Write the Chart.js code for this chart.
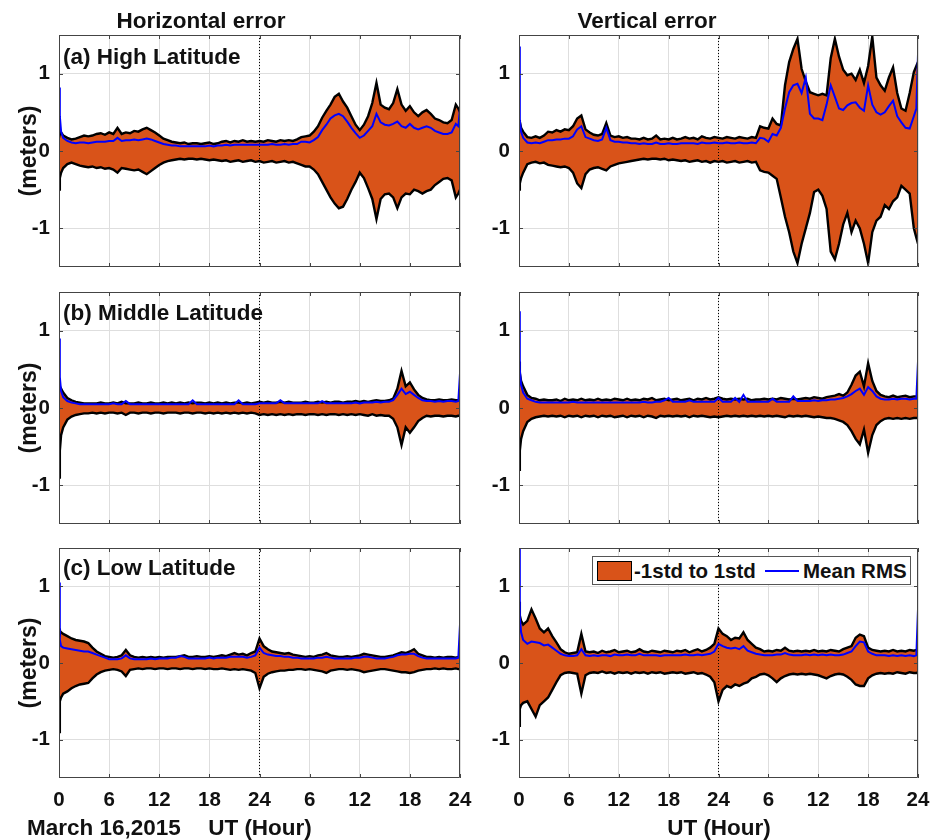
<!DOCTYPE html>
<html>
<head>
<meta charset="utf-8">
<script src="https://cdn.jsdelivr.net/npm/chart.js@4.4.1/dist/chart.umd.min.js"></script>
<style>
  body { margin: 0; background: #fff; width: 943px; height: 840px; position: relative; overflow: hidden;
         font-family: "Liberation Sans", Arial, Helvetica, sans-serif; font-weight: bold; color: #111; }
  canvas { position: absolute; }
  .t { position: absolute; white-space: nowrap; font-size: 22.5px; line-height: 1; }
  .rot { transform: translate(-50%, -50%) rotate(-90deg); font-size: 23px; }
  .ctr { transform: translateX(-50%); }
  #legend { position: absolute; left: 592px; top: 556px; width: 317px; height: 27px; background: #fff;
            border: 1px solid #555; font-size: 20.5px; line-height: 1; }
  #legend .patch { position: absolute; left: 4px; top: 4px; width: 33px; height: 18px; background: #D95319; border: 1px solid #000; }
  #legend .line { position: absolute; left: 172px; top: 13px; width: 34px; height: 2px; background: #0000ff; }
  #legend span { position: absolute; top: 4px; }
</style>
</head>
<body>
<canvas id="aH" width="475" height="245" style="left:0;top:30px"></canvas>
<canvas id="aV" width="473" height="245" style="left:470px;top:30px"></canvas>
<canvas id="bH" width="475" height="245" style="left:0;top:287px"></canvas>
<canvas id="bV" width="473" height="245" style="left:470px;top:287px"></canvas>
<canvas id="cH" width="475" height="275" style="left:0;top:543px"></canvas>
<canvas id="cV" width="473" height="275" style="left:470px;top:543px"></canvas>

<div class="t ctr" style="left:201px;top:10px">Horizontal error</div>
<div class="t ctr" style="left:647px;top:10px">Vertical error</div>
<div class="t" style="left:63px;top:46px">(a) High Latitude</div>
<div class="t" style="left:63px;top:302px">(b) Middle Latitude</div>
<div class="t" style="left:63px;top:557px">(c) Low Latitude</div>
<div class="t rot" style="left:28px;top:151px">(meters)</div>
<div class="t rot" style="left:28px;top:408px">(meters)</div>
<div class="t rot" style="left:28px;top:663px">(meters)</div>
<div class="t" style="left:27px;top:817px">March 16,2015</div>
<div class="t ctr" style="left:260px;top:817px">UT (Hour)</div>
<div class="t ctr" style="left:719px;top:817px">UT (Hour)</div>
<div id="legend">
  <div class="patch"></div><span style="left:41px">-1std to 1std</span>
  <div class="line"></div><span style="left:210px">Mean RMS</span>
</div>

<script>
// UT hours since 00:00 March 16, 2015 (two days)
const hours = [0, 0.1, 0.25, 0.5, 1, 1.5, 2, 2.5, 3, 3.5,
  4, 4.5, 5, 5.5, 6, 6.5, 7, 7.5, 8, 8.5,
  9, 9.5, 10, 10.5, 11, 11.5, 12, 12.5, 13, 13.5,
  14, 14.5, 15, 15.5, 16, 16.5, 17, 17.5, 18, 18.5,
  19, 19.5, 20, 20.5, 21, 21.5, 22, 22.5, 23, 23.5,
  24, 24.5, 25, 25.5, 26, 26.5, 27, 27.5, 28, 28.5,
  29, 29.5, 30, 30.5, 31, 31.5, 32, 32.5, 33, 33.5,
  34, 34.5, 35, 35.5, 36, 36.5, 37, 37.5, 38, 38.5,
  39, 39.5, 40, 40.5, 41, 41.5, 42, 42.5, 43, 43.5,
  44, 44.5, 45, 45.5, 46, 46.5, 47, 47.5, 47.8, 48];

const xTicks = [0, 6, 12, 18, 24, 30, 36, 42, 48];
const xTickLabels = ["0", "6", "12", "18", "24", "6", "12", "18", "24"];
const yTicks = [-1, 0, 1];
const dayBoundary = 24;

// (a) High latitude, horizontal
const highHorUpper = [0.32, 0.28, 0.24, 0.2, 0.17, 0.15, 0.16, 0.18, 0.2, 0.19,
  0.2, 0.22, 0.23, 0.21, 0.24, 0.22, 0.3, 0.22, 0.24, 0.23,
  0.26, 0.25, 0.28, 0.3, 0.27, 0.24, 0.2, 0.16, 0.14, 0.12,
  0.11, 0.1, 0.11, 0.09, 0.1, 0.1, 0.09, 0.1, 0.11, 0.09,
  0.1, 0.12, 0.13, 0.11, 0.13, 0.12, 0.14, 0.12, 0.13, 0.12,
  0.13, 0.12, 0.14, 0.13, 0.12, 0.14, 0.13, 0.14, 0.13, 0.15,
  0.18, 0.19, 0.2, 0.25, 0.32, 0.43, 0.52, 0.6, 0.7, 0.74,
  0.64, 0.56, 0.45, 0.34, 0.27, 0.34, 0.45, 0.62, 0.88, 0.6,
  0.56, 0.54, 0.62, 0.8, 0.6, 0.52, 0.58, 0.5, 0.45, 0.5,
  0.53, 0.48, 0.42, 0.4, 0.37, 0.36, 0.4, 0.6, 0.55, 0.5];
const highHorLower = [-0.5, -0.35, -0.28, -0.22, -0.17, -0.15, -0.17, -0.19, -0.2, -0.21,
  -0.2, -0.22, -0.21, -0.23, -0.22, -0.24, -0.28, -0.22, -0.23, -0.24,
  -0.25, -0.24, -0.27, -0.3, -0.26, -0.22, -0.18, -0.15, -0.13, -0.12,
  -0.11, -0.1, -0.11, -0.1, -0.1, -0.11, -0.1, -0.11, -0.12, -0.11,
  -0.12, -0.13, -0.12, -0.14, -0.13, -0.12, -0.14, -0.13, -0.12, -0.14,
  -0.13, -0.15, -0.14, -0.13, -0.15, -0.14, -0.13, -0.15, -0.14, -0.16,
  -0.18, -0.2, -0.2, -0.24, -0.3, -0.4, -0.5, -0.6, -0.68, -0.74,
  -0.72, -0.62, -0.5, -0.4, -0.28, -0.35, -0.48, -0.62, -0.88, -0.62,
  -0.56, -0.55, -0.6, -0.74, -0.6, -0.55, -0.56, -0.5, -0.52, -0.55,
  -0.52, -0.5, -0.44, -0.4, -0.36, -0.35, -0.38, -0.6, -0.55, -0.5];
const highHorRms = [0.82, 0.45, 0.25, 0.17, 0.13, 0.11, 0.1, 0.11, 0.11, 0.1,
  0.11, 0.12, 0.12, 0.12, 0.13, 0.13, 0.17, 0.13, 0.14, 0.14,
  0.15, 0.14, 0.15, 0.16, 0.15, 0.13, 0.11, 0.09, 0.08, 0.07,
  0.07, 0.06, 0.06, 0.06, 0.06, 0.06, 0.06, 0.06, 0.07, 0.06,
  0.07, 0.07, 0.08, 0.07, 0.08, 0.08, 0.08, 0.08, 0.08, 0.08,
  0.08, 0.08, 0.08, 0.09, 0.08, 0.08, 0.09, 0.08, 0.09, 0.09,
  0.12, 0.12, 0.11, 0.14, 0.18, 0.27, 0.34, 0.42, 0.46, 0.48,
  0.45, 0.38, 0.3, 0.23, 0.17, 0.2, 0.26, 0.32, 0.48, 0.37,
  0.34, 0.33, 0.35, 0.38, 0.32, 0.3, 0.35, 0.3, 0.28, 0.3,
  0.32, 0.3, 0.26, 0.24, 0.22, 0.22, 0.24, 0.35, 0.32, 0.55];

// (a) High latitude, vertical
const highVerUpper = [0.4, 0.38, 0.3, 0.25, 0.18, 0.17, 0.19, 0.17, 0.2, 0.25,
  0.24, 0.27, 0.25, 0.28, 0.27, 0.32, 0.42, 0.46, 0.28, 0.24,
  0.21, 0.2, 0.22, 0.36, 0.2, 0.18, 0.19, 0.17, 0.18, 0.16,
  0.16, 0.15, 0.17, 0.15, 0.16, 0.2, 0.15, 0.16, 0.15, 0.17,
  0.15, 0.16, 0.18, 0.16, 0.17, 0.15, 0.19, 0.17, 0.16, 0.18,
  0.17, 0.16, 0.18, 0.17, 0.16, 0.18, 0.17, 0.16, 0.18, 0.17,
  0.32, 0.3, 0.29, 0.42, 0.35, 0.33, 0.85, 1.15, 1.32, 1.45,
  1.06, 0.9, 0.76, 0.74, 0.72, 0.74, 0.72, 1.2, 1.45, 1.22,
  1.05, 0.98, 1.0, 0.92, 1.05, 0.88, 1.1, 1.48, 0.95, 0.85,
  0.78, 0.95, 1.08, 0.75, 0.55, 0.52, 0.75, 1.02, 1.1, 1.15];
const highVerLower = [-0.5, -0.42, -0.35, -0.28, -0.17, -0.15, -0.14, -0.16, -0.15, -0.18,
  -0.19, -0.2, -0.21, -0.2, -0.22, -0.28, -0.42, -0.48, -0.3, -0.24,
  -0.22, -0.21, -0.23, -0.25, -0.2, -0.18, -0.16, -0.15, -0.14, -0.13,
  -0.12, -0.11, -0.1, -0.11, -0.1, -0.1, -0.11, -0.1, -0.12, -0.11,
  -0.12, -0.13, -0.12, -0.14, -0.13, -0.12, -0.14, -0.13, -0.15, -0.13,
  -0.14, -0.13, -0.15, -0.14, -0.13, -0.15, -0.14, -0.13, -0.15, -0.14,
  -0.25, -0.27, -0.28, -0.32, -0.36, -0.6, -0.85, -1.05, -1.3, -1.45,
  -1.2, -1.0, -0.8, -0.53, -0.5, -0.58, -0.75, -1.3, -1.4, -1.2,
  -0.95, -0.8, -1.05, -0.9, -1.0, -1.2, -1.45, -1.05, -0.9, -0.85,
  -0.7, -0.75, -0.65, -0.6, -0.45, -0.5, -0.55, -1.0, -1.12, -1.2];
const highVerRms = [1.35, 0.4, 0.25, 0.17, 0.11, 0.1, 0.11, 0.1, 0.12, 0.14,
  0.14, 0.15, 0.15, 0.16, 0.16, 0.19, 0.28, 0.32, 0.18, 0.16,
  0.14, 0.13, 0.15, 0.3, 0.14, 0.12, 0.12, 0.11, 0.11, 0.1,
  0.1, 0.09, 0.1, 0.09, 0.09, 0.11, 0.09, 0.09, 0.1, 0.09,
  0.09, 0.1, 0.1, 0.1, 0.1, 0.09, 0.11, 0.1, 0.1, 0.11,
  0.1, 0.1, 0.11, 0.1, 0.1, 0.11, 0.1, 0.1, 0.11, 0.1,
  0.17, 0.16, 0.12, 0.22, 0.2, 0.3, 0.55, 0.76, 0.85, 0.87,
  0.75, 0.95, 0.48, 0.42, 0.42, 0.4, 0.6, 0.85, 0.7, 0.55,
  0.53, 0.59, 0.62, 0.63, 0.56, 0.52, 0.85, 0.6, 0.5, 0.47,
  0.5, 0.58, 0.65, 0.45, 0.37, 0.3, 0.29, 0.45, 0.55, 1.25];

// (b) Middle latitude, horizontal
const midHorUpper = [0.3, 0.28, 0.25, 0.2, 0.13, 0.1, 0.08, 0.07, 0.06, 0.06,
  0.06, 0.06, 0.07, 0.06, 0.06, 0.07, 0.06, 0.08, 0.06, 0.06,
  0.06, 0.07, 0.06, 0.06, 0.07, 0.06, 0.06, 0.07, 0.06, 0.07,
  0.06, 0.07, 0.06, 0.07, 0.06, 0.07, 0.07, 0.06, 0.07, 0.06,
  0.07, 0.06, 0.07, 0.06, 0.07, 0.07, 0.06, 0.07, 0.06, 0.07,
  0.08, 0.07, 0.08, 0.07, 0.07, 0.08, 0.07, 0.08, 0.07, 0.07,
  0.07, 0.08, 0.07, 0.07, 0.08, 0.07, 0.08, 0.07, 0.08, 0.08,
  0.07, 0.08, 0.08, 0.09, 0.08, 0.09, 0.08, 0.09, 0.1, 0.09,
  0.09, 0.1, 0.12, 0.25, 0.48, 0.28, 0.33, 0.24, 0.17, 0.13,
  0.11, 0.1, 0.1, 0.11, 0.1, 0.1, 0.11, 0.1, 0.1, 0.1];
const midHorLower = [-0.9, -0.55, -0.35, -0.25, -0.15, -0.11, -0.09, -0.08, -0.07, -0.07,
  -0.06, -0.07, -0.06, -0.07, -0.06, -0.06, -0.07, -0.06, -0.09, -0.06,
  -0.06, -0.07, -0.06, -0.06, -0.07, -0.06, -0.06, -0.07, -0.06, -0.06,
  -0.06, -0.07, -0.06, -0.06, -0.07, -0.06, -0.06, -0.07, -0.06, -0.07,
  -0.06, -0.07, -0.06, -0.07, -0.06, -0.07, -0.06, -0.07, -0.06, -0.07,
  -0.09, -0.08, -0.09, -0.08, -0.09, -0.08, -0.09, -0.08, -0.09, -0.08,
  -0.08, -0.09, -0.08, -0.08, -0.09, -0.08, -0.09, -0.08, -0.08, -0.09,
  -0.08, -0.09, -0.08, -0.09, -0.08, -0.09, -0.1, -0.08, -0.1, -0.09,
  -0.1, -0.1, -0.14, -0.25, -0.48, -0.25, -0.32, -0.25, -0.17, -0.13,
  -0.1, -0.11, -0.1, -0.1, -0.11, -0.1, -0.1, -0.11, -0.1, -0.1];
const midHorRms = [0.9, 0.4, 0.22, 0.14, 0.09, 0.07, 0.06, 0.05, 0.05, 0.05,
  0.05, 0.05, 0.05, 0.05, 0.05, 0.06, 0.05, 0.05, 0.09, 0.05,
  0.05, 0.05, 0.05, 0.05, 0.05, 0.05, 0.05, 0.05, 0.05, 0.05,
  0.05, 0.05, 0.05, 0.05, 0.1, 0.05, 0.05, 0.05, 0.05, 0.05,
  0.05, 0.05, 0.05, 0.05, 0.05, 0.1, 0.05, 0.05, 0.05, 0.05,
  0.06, 0.06, 0.06, 0.06, 0.06, 0.1, 0.06, 0.06, 0.06, 0.06,
  0.06, 0.06, 0.06, 0.06, 0.06, 0.09, 0.06, 0.06, 0.06, 0.06,
  0.06, 0.06, 0.06, 0.07, 0.06, 0.07, 0.07, 0.07, 0.08, 0.07,
  0.08, 0.08, 0.1, 0.17, 0.25, 0.18, 0.21, 0.17, 0.13, 0.1,
  0.09, 0.09, 0.08, 0.09, 0.08, 0.09, 0.09, 0.08, 0.09, 0.45];

// (b) Middle latitude, vertical
const midVerUpper = [0.6, 0.45, 0.35, 0.28, 0.17, 0.13, 0.12, 0.1, 0.11, 0.1,
  0.1, 0.11, 0.09, 0.12, 0.1, 0.11, 0.1, 0.12, 0.1, 0.11,
  0.1, 0.12, 0.1, 0.11, 0.1, 0.12, 0.11, 0.1, 0.12, 0.1,
  0.11, 0.1, 0.12, 0.11, 0.13, 0.1, 0.11, 0.12, 0.1, 0.11,
  0.12, 0.1, 0.11, 0.12, 0.1, 0.12, 0.11, 0.13, 0.11, 0.12,
  0.14, 0.12, 0.11, 0.12, 0.11, 0.12, 0.11, 0.12, 0.1, 0.11,
  0.11, 0.12, 0.11, 0.12, 0.11, 0.13, 0.12, 0.11, 0.12, 0.11,
  0.12, 0.13, 0.12, 0.14, 0.13, 0.12, 0.14, 0.15, 0.16, 0.18,
  0.16, 0.2, 0.3, 0.42, 0.47, 0.28, 0.58, 0.35, 0.22, 0.17,
  0.15, 0.14, 0.16, 0.14, 0.15, 0.16, 0.14, 0.15, 0.15, 0.16];
const midVerLower = [-0.8, -0.55, -0.4, -0.3, -0.18, -0.14, -0.12, -0.11, -0.1, -0.11,
  -0.1, -0.11, -0.1, -0.12, -0.1, -0.11, -0.1, -0.12, -0.1, -0.11,
  -0.1, -0.12, -0.1, -0.11, -0.1, -0.12, -0.11, -0.1, -0.12, -0.1,
  -0.11, -0.1, -0.12, -0.1, -0.11, -0.13, -0.1, -0.11, -0.1, -0.11,
  -0.1, -0.11, -0.1, -0.12, -0.1, -0.11, -0.1, -0.11, -0.12, -0.11,
  -0.12, -0.11, -0.1, -0.11, -0.1, -0.11, -0.1, -0.11, -0.1, -0.11,
  -0.1, -0.11, -0.1, -0.11, -0.1, -0.11, -0.12, -0.1, -0.11, -0.1,
  -0.11, -0.1, -0.11, -0.12, -0.11, -0.12, -0.13, -0.13, -0.14, -0.16,
  -0.18, -0.22, -0.3, -0.4, -0.47, -0.28, -0.58, -0.35, -0.22, -0.17,
  -0.14, -0.13, -0.14, -0.13, -0.14, -0.13, -0.14, -0.13, -0.13, -0.13];
const midVerRms = [1.25, 0.5, 0.3, 0.2, 0.12, 0.1, 0.08, 0.07, 0.07, 0.07,
  0.07, 0.07, 0.07, 0.07, 0.07, 0.08, 0.07, 0.07, 0.07, 0.07,
  0.07, 0.07, 0.07, 0.07, 0.07, 0.07, 0.07, 0.07, 0.07, 0.07,
  0.07, 0.07, 0.08, 0.07, 0.07, 0.08, 0.08, 0.1, 0.13, 0.08,
  0.08, 0.08, 0.08, 0.1, 0.08, 0.08, 0.08, 0.08, 0.08, 0.08,
  0.13, 0.08, 0.08, 0.08, 0.13, 0.08, 0.17, 0.08, 0.08, 0.08,
  0.08, 0.08, 0.08, 0.12, 0.08, 0.08, 0.08, 0.08, 0.15, 0.09,
  0.09, 0.09, 0.09, 0.1, 0.09, 0.1, 0.1, 0.11, 0.11, 0.12,
  0.13, 0.15, 0.18, 0.22, 0.25, 0.17, 0.27, 0.22, 0.15, 0.12,
  0.11, 0.11, 0.12, 0.11, 0.12, 0.12, 0.11, 0.12, 0.12, 0.6];

// (c) Low latitude, horizontal
const lowHorUpper = [0.45, 0.42, 0.4, 0.38, 0.35, 0.32, 0.3, 0.29, 0.28, 0.26,
  0.2, 0.15, 0.12, 0.09, 0.08, 0.07, 0.08, 0.1, 0.17, 0.1,
  0.08, 0.07, 0.08, 0.07, 0.08, 0.07, 0.08, 0.07, 0.08, 0.08,
  0.08, 0.09, 0.1, 0.08, 0.08, 0.09, 0.08, 0.08, 0.09, 0.08,
  0.09, 0.1, 0.09, 0.11, 0.13, 0.11, 0.12, 0.1, 0.13, 0.15,
  0.32, 0.22, 0.18, 0.15, 0.14, 0.13, 0.12, 0.13, 0.11, 0.1,
  0.09, 0.08, 0.09, 0.08, 0.1, 0.11, 0.13, 0.1, 0.09, 0.08,
  0.08, 0.09, 0.08, 0.09, 0.1, 0.12, 0.11, 0.1, 0.09, 0.08,
  0.08, 0.09, 0.1, 0.12, 0.14, 0.13, 0.15, 0.18, 0.12, 0.1,
  0.08, 0.08, 0.07, 0.08, 0.07, 0.08, 0.08, 0.07, 0.08, 0.08];
const lowHorLower = [-0.9, -0.5, -0.45, -0.4, -0.37, -0.33, -0.3, -0.28, -0.27, -0.26,
  -0.2, -0.15, -0.12, -0.1, -0.09, -0.08, -0.09, -0.11, -0.17, -0.09,
  -0.08, -0.07, -0.08, -0.07, -0.07, -0.08, -0.07, -0.07, -0.08, -0.07,
  -0.07, -0.08, -0.07, -0.07, -0.08, -0.07, -0.07, -0.08, -0.07, -0.08,
  -0.08, -0.07, -0.08, -0.09, -0.08, -0.09, -0.08, -0.09, -0.1, -0.13,
  -0.33, -0.18, -0.14, -0.12, -0.11, -0.1, -0.1, -0.09, -0.09, -0.08,
  -0.08, -0.09, -0.08, -0.09, -0.1, -0.11, -0.13, -0.1, -0.09, -0.08,
  -0.08, -0.09, -0.08, -0.09, -0.1, -0.12, -0.11, -0.1, -0.09, -0.08,
  -0.08, -0.09, -0.1, -0.11, -0.12, -0.12, -0.13, -0.12, -0.1, -0.09,
  -0.08, -0.08, -0.07, -0.08, -0.07, -0.08, -0.08, -0.07, -0.08, -0.08];
const lowHorRms = [1.05, 0.3, 0.22, 0.2, 0.19, 0.18, 0.17, 0.16, 0.15, 0.15,
  0.13, 0.11, 0.09, 0.07, 0.05, 0.05, 0.05, 0.06, 0.1, 0.06,
  0.05, 0.05, 0.05, 0.05, 0.06, 0.05, 0.06, 0.06, 0.06, 0.07,
  0.07, 0.09, 0.08, 0.06, 0.06, 0.06, 0.06, 0.06, 0.07, 0.06,
  0.07, 0.07, 0.07, 0.08, 0.08, 0.08, 0.08, 0.07, 0.08, 0.1,
  0.2, 0.13, 0.11, 0.1, 0.09, 0.09, 0.08, 0.08, 0.07, 0.07,
  0.06, 0.06, 0.06, 0.06, 0.07, 0.07, 0.08, 0.07, 0.06, 0.06,
  0.06, 0.06, 0.06, 0.07, 0.07, 0.08, 0.08, 0.07, 0.06, 0.06,
  0.06, 0.07, 0.08, 0.1, 0.11, 0.11, 0.12, 0.12, 0.09, 0.07,
  0.06, 0.06, 0.06, 0.06, 0.06, 0.06, 0.06, 0.06, 0.07, 0.5];

// (c) Low latitude, vertical
const lowVerUpper = [0.8, 0.62, 0.55, 0.5, 0.55, 0.7, 0.58, 0.45, 0.4, 0.45,
  0.35, 0.27, 0.18, 0.14, 0.12, 0.13, 0.14, 0.38, 0.15, 0.14,
  0.15, 0.13, 0.16, 0.14, 0.15, 0.17, 0.14, 0.15, 0.16, 0.14,
  0.15, 0.18, 0.15, 0.14, 0.16, 0.15, 0.14, 0.16, 0.15, 0.14,
  0.16, 0.15, 0.17, 0.14, 0.16, 0.18, 0.15, 0.17, 0.2, 0.25,
  0.45, 0.38, 0.35, 0.3, 0.33, 0.32, 0.4, 0.3, 0.25, 0.2,
  0.18, 0.15, 0.16, 0.15, 0.17, 0.16, 0.2, 0.16, 0.15, 0.16,
  0.15, 0.16, 0.15, 0.17, 0.15, 0.16, 0.15, 0.17, 0.16, 0.15,
  0.18, 0.2, 0.22, 0.33, 0.37, 0.35, 0.2, 0.17, 0.16, 0.15,
  0.16, 0.15, 0.17, 0.15, 0.16, 0.15, 0.17, 0.16, 0.17, 0.16];
const lowVerLower = [-0.82, -0.6, -0.55, -0.52, -0.5, -0.6, -0.7, -0.55, -0.5, -0.45,
  -0.35, -0.25, -0.16, -0.13, -0.12, -0.13, -0.14, -0.4, -0.16, -0.13,
  -0.12, -0.13, -0.11, -0.13, -0.12, -0.14, -0.12, -0.13, -0.12, -0.14,
  -0.12, -0.13, -0.12, -0.14, -0.12, -0.13, -0.12, -0.14, -0.13, -0.12,
  -0.13, -0.12, -0.14, -0.13, -0.12, -0.14, -0.13, -0.15, -0.18, -0.25,
  -0.5, -0.35, -0.3, -0.32, -0.28, -0.3, -0.27, -0.25, -0.2, -0.18,
  -0.15, -0.14, -0.16, -0.2, -0.25, -0.2, -0.17, -0.15, -0.14, -0.15,
  -0.14, -0.15, -0.14, -0.15, -0.16, -0.18, -0.2, -0.17, -0.15, -0.14,
  -0.15, -0.18, -0.22, -0.28, -0.3, -0.3, -0.2, -0.16, -0.14, -0.13,
  -0.14, -0.13, -0.14, -0.12, -0.13, -0.14, -0.12, -0.13, -0.13, -0.12];
const lowVerRms = [1.5, 0.6, 0.4, 0.3, 0.25, 0.28, 0.27, 0.26, 0.23, 0.24,
  0.2, 0.16, 0.12, 0.1, 0.09, 0.09, 0.1, 0.18, 0.1, 0.09,
  0.1, 0.09, 0.1, 0.1, 0.09, 0.11, 0.1, 0.1, 0.11, 0.1,
  0.1, 0.12, 0.1, 0.1, 0.1, 0.1, 0.09, 0.1, 0.1, 0.1,
  0.1, 0.1, 0.11, 0.1, 0.1, 0.11, 0.1, 0.11, 0.12, 0.15,
  0.25, 0.22, 0.2, 0.19, 0.2, 0.18, 0.22, 0.16, 0.14, 0.12,
  0.11, 0.1, 0.1, 0.1, 0.11, 0.11, 0.13, 0.11, 0.1, 0.1,
  0.1, 0.11, 0.1, 0.11, 0.1, 0.11, 0.1, 0.11, 0.1, 0.1,
  0.11, 0.13, 0.15, 0.22, 0.28, 0.27, 0.15, 0.12, 0.1, 0.1,
  0.1, 0.09, 0.1, 0.09, 0.1, 0.09, 0.1, 0.09, 0.1, 0.7];

const FONT = "'Liberation Sans', Arial, Helvetica, sans-serif";
const ORANGE = "#D95319";

function toPoints(values) {
  return hours.map((h, i) => ({ x: h, y: values[i] }));
}

// box outline + inward tick marks, like a MATLAB axes with "box on"
const framePlugin = {
  id: "frame",
  afterDraw(chart) {
    const { ctx, chartArea: a, scales } = chart;
    ctx.save();
    ctx.strokeStyle = "#444";
    ctx.lineWidth = 1;
    ctx.beginPath();
    ctx.rect(a.left + 0.5, a.top + 0.5, a.right - a.left - 1, a.bottom - a.top - 1);
    scales.x.ticks.forEach(t => {
      const px = Math.round(scales.x.getPixelForValue(t.value)) + 0.5;
      ctx.moveTo(px, a.bottom); ctx.lineTo(px, a.bottom - 4);
      ctx.moveTo(px, a.top); ctx.lineTo(px, a.top + 4);
    });
    scales.y.ticks.forEach(t => {
      const py = Math.round(scales.y.getPixelForValue(t.value)) + 0.5;
      ctx.moveTo(a.left, py); ctx.lineTo(a.left + 4, py);
      ctx.moveTo(a.right, py); ctx.lineTo(a.right - 4, py);
    });
    ctx.stroke();
    ctx.restore();
  }
};

// no automatic label padding: the plot box is placed exactly
function noPad(s) {
  s.paddingTop = 0; s.paddingBottom = 0; s.paddingLeft = 0; s.paddingRight = 0;
}

function makePanel(id, upper, lower, rms, yAxisWidth, padRight, showX) {
  new Chart(document.getElementById(id), {
    type: "line",
    data: {
      datasets: [
        { label: "Mean RMS", data: toPoints(rms), borderColor: "#0000ff", borderWidth: 2,
          pointRadius: 0, fill: false, order: 0 },
        { label: "day", data: [{ x: dayBoundary, y: -1.5 }, { x: dayBoundary, y: 1.5 }],
          borderColor: "#000", borderWidth: 1, borderDash: [1, 2], pointRadius: 0, fill: false, order: 1 },
        { label: "+1std", data: toPoints(upper), borderColor: "#000", borderWidth: 2.4,
          backgroundColor: ORANGE, fill: 3, pointRadius: 0, order: 3 },
        { label: "-1std", data: toPoints(lower), borderColor: "#000", borderWidth: 2.4,
          pointRadius: 0, fill: false, order: 2 }
      ]
    },
    options: {
      responsive: false,
      animation: false,
      devicePixelRatio: 1,
      layout: { autoPadding: false, padding: { top: 5, right: padRight, left: 0, bottom: 0 } },
      elements: { line: { tension: 0 } },
      plugins: { legend: { display: false }, tooltip: { enabled: false } },
      scales: {
        x: {
          type: "linear", min: 0, max: 48,
          afterBuildTicks: s => { s.ticks = xTicks.map(v => ({ value: v })); },
          afterFit: s => { s.height = showX ? 40 : 8; noPad(s); },
          grid: { color: "#dedede", drawTicks: false },
          border: { display: false },
          ticks: {
            display: showX, padding: 10, maxRotation: 0, autoSkip: false, color: "#111",
            font: { family: FONT, size: 20.5, weight: "bold" },
            callback: (v, i) => xTickLabels[i]
          }
        },
        y: {
          min: -1.5, max: 1.5,
          afterBuildTicks: s => { s.ticks = yTicks.map(v => ({ value: v })); },
          afterFit: s => { s.width = yAxisWidth; noPad(s); },
          grid: { color: "#dedede", drawTicks: false },
          border: { display: false },
          ticks: {
            padding: 9, color: "#111",
            font: { family: FONT, size: 20.5, weight: "bold" },
            callback: v => String(v)
          }
        }
      }
    },
    plugins: [framePlugin]
  });
}

makePanel("aH", highHorUpper, highHorLower, highHorRms, 59, 15, false);
makePanel("aV", highVerUpper, highVerLower, highVerRms, 49, 25, false);
makePanel("bH", midHorUpper, midHorLower, midHorRms, 59, 15, false);
makePanel("bV", midVerUpper, midVerLower, midVerRms, 49, 25, false);
makePanel("cH", lowHorUpper, lowHorLower, lowHorRms, 59, 15, true);
makePanel("cV", lowVerUpper, lowVerLower, lowVerRms, 49, 25, true);
</script>
</body>
</html>
